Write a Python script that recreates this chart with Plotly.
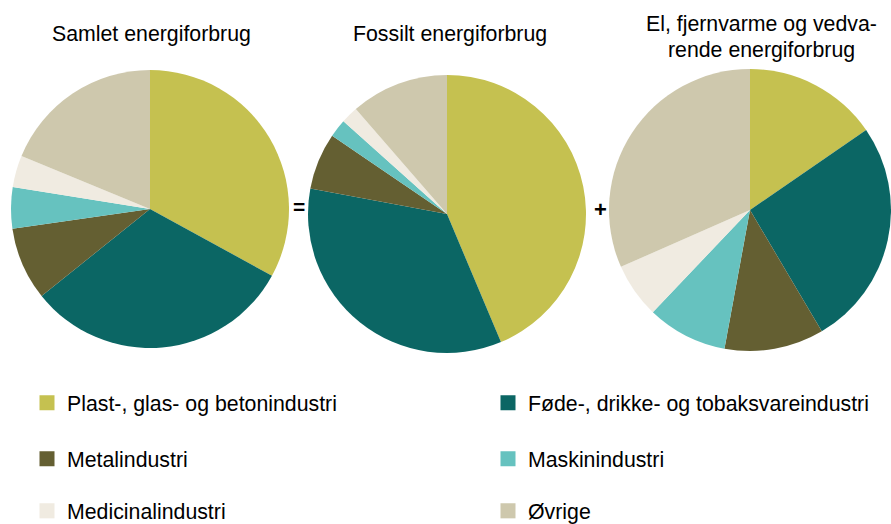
import plotly.graph_objects as go

categories = [
    "Plast-, glas- og betonindustri",
    "Føde-, drikke- og tobaksvareindustri",
    "Metalindustri",
    "Maskinindustri",
    "Medicinalindustri",
    "Øvrige",
]
colors = ["#C5C150", "#0B6664", "#645F32", "#66C2BF", "#F0EBE1", "#CEC8AD"]

samlet = [33.0, 31.3, 8.5, 4.8, 3.7, 18.8]
fossilt = [43.7, 34.3, 6.6, 2.1, 2.0, 11.4]
el_vedvarende = [15.4, 26.1, 11.4, 9.2, 6.3, 31.6]

title_lines = [
    ["Samlet energiforbrug"],
    ["Fossilt energiforbrug"],
    ["El, fjernvarme og vedva-", "rende energiforbrug"],
]

W, H = 891, 524
FONT = "Liberation Sans, Arial, sans-serif"
FS = 21.3


def dom_x(x0, x1):
    return [x0 / W, x1 / W]


def dom_y(top, bottom):
    return [1 - bottom / H, 1 - top / H]


fig = go.Figure()
pies = [
    (samlet, dom_x(11, 289), dom_y(70, 348)),
    (fossilt, dom_x(308, 586), dom_y(75, 353)),
    (el_vedvarende, dom_x(609, 891), dom_y(69, 351)),
]
for vals, dx, dy in pies:
    fig.add_trace(go.Pie(
        labels=categories, values=vals, sort=False, direction="clockwise",
        rotation=0, textinfo="none", hoverinfo="label+percent",
        marker=dict(colors=colors, line=dict(width=0)),
        domain=dict(x=dx, y=dy), showlegend=False,
    ))

# legend entries: one legend per entry, laid out in 3 rows x 2 columns
legend_ids = ["legend", "legend2", "legend3", "legend4", "legend5", "legend6"]
for name, col, lid in zip(categories, colors, legend_ids):
    fig.add_trace(go.Scatter(
        x=[None], y=[None], mode="markers", name=name,
        marker=dict(symbol="square", size=15, color=col),
        legend=lid, showlegend=True,
    ))

col_x = [27, 488]
row_y = [403, 459, 511]
legend_layout = {}
for i, lid in enumerate(legend_ids):
    legend_layout[lid] = dict(
        x=col_x[i % 2] / W, y=1 - row_y[i // 2] / H,
        xanchor="left", yanchor="middle", orientation="h",
        bgcolor="rgba(0,0,0,0)", borderwidth=0,
        font=dict(family=FONT, size=FS, color="#000"),
    )
fig.update_layout(**legend_layout)

annotations = []
title_pos = [(151, [34]), (450, [34]), (761, [24, 50])]
for lines, (x, ys) in zip(title_lines, title_pos):
    for t, y in zip(lines, ys):
        annotations.append(dict(text=t, x=x / W, y=1 - y / H, xref="paper", yref="paper",
                                showarrow=False, xanchor="center", yanchor="middle",
                                font=dict(family=FONT, size=FS, color="#000")))
annotations.append(dict(text="<b>=</b>", x=299 / W, y=1 - 206 / H, xref="paper", yref="paper",
                        xanchor="center", yanchor="middle",
                        showarrow=False, font=dict(family=FONT, size=21, color="#000")))
annotations.append(dict(text="<b>+</b>", x=600 / W, y=1 - 209 / H, xref="paper", yref="paper",
                        xanchor="center", yanchor="middle",
                        showarrow=False, font=dict(family=FONT, size=22, color="#000")))

fig.update_layout(
    width=W, height=H,
    margin=dict(l=0, r=0, t=0, b=0, pad=0, autoexpand=False),
    paper_bgcolor="white", plot_bgcolor="white",
    xaxis=dict(visible=False), yaxis=dict(visible=False),
    annotations=annotations, font=dict(family=FONT),
)

fig.write_html("out.html", config={"displayModeBar": False},
               post_script="document.body.style.margin='0';document.body.style.overflow='hidden';")
